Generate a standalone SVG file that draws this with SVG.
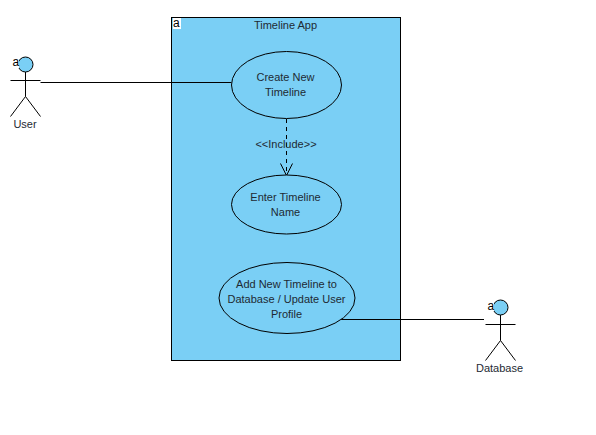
<svg xmlns="http://www.w3.org/2000/svg" width="596" height="435" viewBox="0 0 596 435">
<style>
text{font-family:"Liberation Sans",Arial,sans-serif;font-size:11px;fill:#1e2a33;text-anchor:middle}
.s{fill:#7acff5;stroke:#000;stroke-width:1}
.l{fill:none;stroke:#000;stroke-width:1}
.a{font-size:12px;fill:#000;text-anchor:start}
.h{fill:#fff}
</style>
<rect width="596" height="435" fill="#fff"/>
<g id="system">
<rect class="s" x="171.500" y="17.500" width="229" height="343"/>
<rect class="h" x="173" y="18" width="8" height="11"/>
<text class="a" x="173" y="27">a</text>
<text x="285.500" y="29">Timeline App</text>
</g>
<g id="connectors">
<path class="l" d="M40.500 82.500H231.500"/>
<path class="l" d="M286.500 119V175" stroke-dasharray="4 4"/>
<path class="l" d="M280.500 163.500L286.500 175.500L292.500 163.500"/>
<path class="l" d="M341 319.500H484"/>
<text x="286" y="148">&lt;&lt;Include&gt;&gt;</text>
</g>
<g id="user">
<circle class="s" cx="25.500" cy="64.500" r="7.500"/>
<path class="l" d="M25.500 72V96.500M10.500 80.500H40.500M25.500 96.500L10.500 116.500M25.500 96.500L40.500 116.500"/>
<rect class="h" x="13" y="57" width="6" height="11"/>
<text class="a" x="12.500" y="66">a</text>
<text x="25" y="128">User</text>
</g>
<g id="create">
<ellipse class="s" cx="286.500" cy="85" rx="55" ry="33.500"/>
<text x="285.500" y="81">Create New</text>
<text x="285.500" y="96">Timeline</text>
</g>
<g id="enter">
<ellipse class="s" cx="286.500" cy="204.500" rx="55" ry="29.500"/>
<text x="285.500" y="201">Enter Timeline</text>
<text x="285.500" y="216">Name</text>
</g>
<g id="add">
<ellipse class="s" cx="287" cy="298" rx="68" ry="35.500"/>
<text x="286.500" y="288">Add New Timeline to</text>
<text x="286.500" y="303">Database / Update User</text>
<text x="286.500" y="318">Profile</text>
</g>
<g id="database">
<circle class="s" cx="500.500" cy="307.500" r="7.500"/>
<path class="l" d="M500.500 315V340.500M485.500 324.500H515.500M500.500 340.500L485.500 360.500M500.500 340.500L515.500 360.500"/>
<rect class="h" x="488" y="300" width="6" height="11"/>
<text class="a" x="487.500" y="310">a</text>
<text x="499.500" y="372">Database</text>
</g>
</svg>
